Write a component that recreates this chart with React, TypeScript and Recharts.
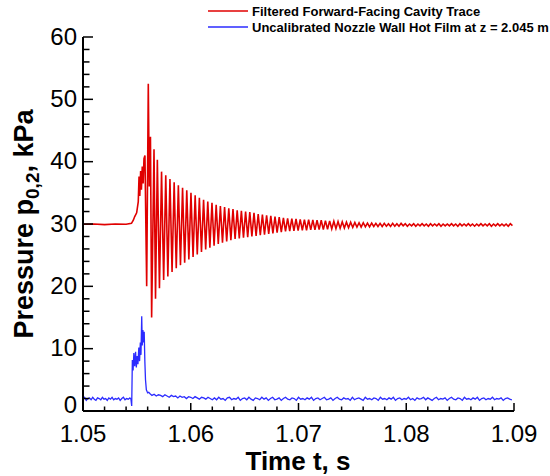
import React from 'react';
import { LineChart, Line, XAxis, YAxis } from 'recharts';

const FONT = '"Liberation Sans", Arial, Helvetica, sans-serif';
const RED = '#e00000';
const BLUE = '#2b2bff';

// Axis ticks
const xTicks = [1.05, 1.052, 1.054, 1.056, 1.058, 1.06, 1.062, 1.064, 1.066, 1.068, 1.07, 1.072, 1.074, 1.076, 1.078, 1.08, 1.082, 1.084, 1.086, 1.088, 1.09];
const xMajor = [1.05, 1.06, 1.07, 1.08, 1.09];
const yTicks = [0, 2, 4, 6, 8, 10, 12, 14, 16, 18, 20, 22, 24, 26, 28, 30, 32, 34, 36, 38, 40, 42, 44, 46, 48, 50, 52, 54, 56, 58, 60];
const yMajor = [0, 10, 20, 30, 40, 50, 60];

// Series names
const redName = 'Filtered Forward-Facing Cavity Trace';
const blueName = 'Uncalibrated Nozzle Wall Hot Film at z = 2.045 m';

// Red trace: pre-event and onset (explicit times)
const redPreT = [1.05, 1.051, 1.052, 1.053, 1.054, 1.0545, 1.05467, 1.0548, 1.05498, 1.05513, 1.0552, 1.05527, 1.05535, 1.05542, 1.0555, 1.05558, 1.05566, 1.05575, 1.05591, 1.05606, 1.05615, 1.05626, 1.05637, 1.05659, 1.05673];
const redPreV = [29.95, 30.0, 29.9, 30.0, 29.95, 30.1, 30.6, 31.2, 31.8, 33.6, 37.6, 34.5, 38.5, 35.5, 39.2, 36.5, 40.5, 41.0, 20.0, 52.5, 36.0, 44.0, 15.0, 42.0, 18.0];

// Red trace: damped oscillation, peak/trough samples every half period
const redOscStart = 1.0569;
const redOscStep = 0.000195;
const redOsc = [
  40.3, 19.7, 38.4, 21.0, 37.8, 21.6, 37.2, 22.3, 36.7, 22.9,
  36.2, 23.4, 35.8, 23.8, 35.4, 24.3, 35.0, 24.7, 34.6, 25.1,
  34.2, 25.5, 33.9, 25.9, 33.6, 26.2, 33.4, 26.5, 33.1, 26.8,
  32.9, 27.0, 32.7, 27.2, 32.5, 27.4, 32.4, 27.6, 32.2, 27.7,
  32.1, 27.8, 32.0, 27.9, 31.9, 28.0, 31.8, 28.1, 31.6, 28.2,
  31.5, 28.3, 31.4, 28.4, 31.3, 28.5, 31.2, 28.6, 31.1, 28.7,
  31.0, 28.8, 30.9, 28.85, 30.85, 28.9, 30.8, 28.95, 30.75, 29.0,
  30.7, 29.0, 30.7, 29.05, 30.65, 29.05, 30.6, 29.1, 30.6, 29.1,
  30.55, 29.15, 30.5, 29.2, 30.45, 29.25, 30.4, 29.3, 30.35, 29.35,
  30.3, 29.4, 30.3, 29.45, 30.25, 29.5, 30.2, 29.5, 30.2, 29.55,
  30.15, 29.55, 30.15, 29.6, 30.1, 29.6, 30.1, 29.6, 30.1, 29.65,
  30.05, 29.6, 30.1, 29.65, 30.05, 29.65, 30.1, 29.7, 30.05, 29.65,
  30.0, 29.7, 30.05, 29.65, 30.0, 29.7, 30.05, 29.7, 30.0, 29.65,
  30.05, 29.7, 30.0, 29.7, 30.05, 29.65, 30.0, 29.7, 30.0, 29.7,
  30.05, 29.7, 30.0, 29.65, 30.05, 29.7, 30.0, 29.7, 30.05, 29.7,
  30.0, 29.65, 30.0, 29.7, 30.05, 29.7, 30.0, 29.7, 30.05, 29.65,
  30.0, 29.7, 30.05, 29.7, 30.0, 29.7, 30.0, 29.65, 30.05, 29.75,
];

// Blue trace: baseline before event
const bluePreStart = 1.05;
const bluePreStep = 0.00015;
const bluePre = [
  1.9, 2.2, 1.7, 2.0, 2.1, 1.8, 2.2, 1.9, 1.7, 2.1,
  2.0, 1.8, 2.2, 1.9, 2.0, 1.7, 2.1, 1.9, 2.2, 1.8,
  2.0, 1.9, 2.1, 1.7, 2.0, 2.2, 1.8, 2.0, 1.9, 2.1,
];

// Blue trace: event (explicit times)
const blueEventT = [1.05445, 1.05452, 1.05458, 1.05465, 1.05472, 1.0548, 1.05488, 1.05495, 1.05503, 1.0551, 1.05518, 1.05525, 1.05532, 1.05538, 1.05545, 1.0555, 1.05556, 1.05562, 1.05568, 1.05574, 1.0558, 1.05588, 1.056, 1.0561];
const blueEventV = [1.9, 0.8, 8.2, 6.5, 9.3, 7.2, 9.5, 7.0, 8.8, 7.5, 10.2, 8.0, 11.0, 9.0, 15.2, 10.5, 13.0, 11.0, 12.7, 8.0, 5.0, 3.4, 2.9, 3.0];

// Blue trace: decay and baseline after event
const blueTailStart = 1.0562;
const blueTailStep = 0.0002;
const blueTail = [
  2.8, 2.5, 2.7, 2.4, 2.6, 2.5, 2.3, 2.6, 2.4, 2.2,
  2.5, 2.3, 2.4, 2.1, 2.4, 2.2, 2.3, 2.0, 2.3, 2.2,
  2.0, 2.3, 2.1, 1.9, 2.2, 2.1, 1.9, 2.2, 2.0, 1.8,
  2.1, 1.8, 2.2, 1.9, 2.0, 1.7, 2.1, 2.2, 1.8, 2.0,
  1.9, 2.2, 1.7, 2.0, 2.1, 1.8, 2.2, 1.9, 1.7, 2.1,
  2.0, 1.8, 2.2, 1.9, 2.1, 1.7, 2.0, 2.2, 1.8, 1.9,
  2.1, 1.7, 2.0, 2.2, 1.9, 1.8, 2.1, 2.0, 1.7, 2.2,
  1.9, 2.0, 1.8, 2.1, 1.9, 2.2, 1.7, 2.0, 2.1, 1.8,
  2.0, 2.2, 1.8, 1.9, 2.1, 1.7, 2.0, 2.2, 1.9, 1.8,
  2.1, 1.9, 2.0, 1.7, 2.2, 1.8, 2.0, 2.1, 1.9, 1.7,
  2.2, 1.9, 2.0, 1.8, 2.1, 2.0, 1.7, 2.2, 1.9, 2.0,
  1.8, 2.1, 1.9, 2.2, 1.7, 2.0, 2.1, 1.8, 2.0, 1.9,
  2.2, 1.8, 2.0, 1.7, 2.1, 1.9, 2.0, 2.2, 1.8, 2.1,
  1.9, 1.7, 2.0, 2.2, 1.8, 2.0, 1.9, 2.1, 1.7, 2.0,
  2.2, 1.9, 1.8, 2.1, 2.0, 1.7, 2.2, 1.9, 2.0, 1.8,
  2.1, 1.9, 2.2, 1.7, 2.0, 2.1, 1.8, 2.0, 1.9, 2.2,
  1.8, 2.0, 1.9, 2.1, 1.7, 2.0, 2.1, 1.9, 1.8,
];

const redData = [
  ...redPreT.map((t, i) => ({ t, v: redPreV[i] })),
  ...redOsc.map((v, k) => ({ t: redOscStart + k * redOscStep, v })),
];

const blueData = [
  ...bluePre.map((v, k) => ({ t: bluePreStart + k * bluePreStep, v })),
  ...blueEventT.map((t, i) => ({ t, v: blueEventV[i] })),
  ...blueTail.map((v, k) => ({ t: blueTailStart + k * blueTailStep, v })),
];

const XTick = (props: any) => {
  const { x, y, payload } = props;
  const major = xMajor.includes(payload.value);
  return (
    <g>
      <line x1={x} x2={x} y1={y} y2={y - (major ? 8 : 4.5)} stroke="#000" strokeWidth={1.5} />
      {major && (
        <text x={x} y={y + 30.5} textAnchor="middle" fontSize={24} fontFamily={FONT} fill="#000">
          {payload.value.toFixed(2)}
        </text>
      )}
    </g>
  );
};

const YTick = (props: any) => {
  const { x, y, payload } = props;
  const major = yMajor.includes(payload.value);
  // the bottom label sits a little above its tick, clear of the x labels
  const dy = payload.value === 0 ? 2 : 7.5;
  return (
    <g>
      <line x1={x} x2={x + (major ? 10 : 6.5)} y1={y} y2={y} stroke="#000" strokeWidth={1.5} />
      {major && (
        <text x={x - 6} y={y + dy} textAnchor="end" fontSize={24} fontFamily={FONT} fill="#000">
          {payload.value}
        </text>
      )}
    </g>
  );
};

export default function App() {
  return (
    <div style={{ position: 'absolute', left: 0, top: 0, width: 550, height: 476, background: '#fff' }}>
      <LineChart width={550} height={476} margin={{ top: 37, right: 36, bottom: 0, left: 0 }}>
        <XAxis
          dataKey="t"
          type="number"
          domain={[1.05, 1.09]}
          allowDataOverflow
          ticks={xTicks}
          interval={0}
          height={65}
          tickSize={0}
          tickMargin={0}
          tickLine={false}
          tick={(p: any) => <XTick {...p} />}
          axisLine={{ stroke: '#000', strokeWidth: 2 }}
        />
        <YAxis
          type="number"
          domain={[0, 60]}
          allowDataOverflow
          ticks={yTicks}
          interval={0}
          width={83}
          tickSize={0}
          tickMargin={0}
          tickLine={false}
          tick={(p: any) => <YTick {...p} />}
          axisLine={{ stroke: '#000', strokeWidth: 2 }}
        />
        <Line data={redData} dataKey="v" name={redName} type="linear" stroke={RED} strokeWidth={1.6} dot={false} isAnimationActive={false} />
        <Line data={blueData} dataKey="v" name={blueName} type="linear" stroke={BLUE} strokeWidth={1.3} dot={false} isAnimationActive={false} />
      </LineChart>
      <svg width={550} height={476} style={{ position: 'absolute', left: 0, top: 0, pointerEvents: 'none' }}>
        <line x1={208} x2={248} y1={11} y2={11} stroke={RED} strokeWidth={1.3} />
        <text x={252} y={16} fontSize={13} fontWeight="bold" fontFamily={FONT} fill="#000">{redName}</text>
        <line x1={208} x2={248} y1={27} y2={27} stroke={BLUE} strokeWidth={1.3} />
        <text x={252} y={32} fontSize={13} fontWeight="bold" fontFamily={FONT} fill="#000">{blueName}</text>
        <text x={298} y={469.5} textAnchor="middle" fontSize={26} fontWeight="bold" fontFamily={FONT} fill="#000">Time t, s</text>
        <text transform="translate(33,224) rotate(-90)" textAnchor="middle" fontSize={27} fontWeight="bold" fontFamily={FONT} fill="#000">
          Pressure p<tspan dy={6} fontSize={19}>0,2</tspan><tspan dy={-6}>, kPa</tspan>
        </text>
      </svg>
    </div>
  );
}
